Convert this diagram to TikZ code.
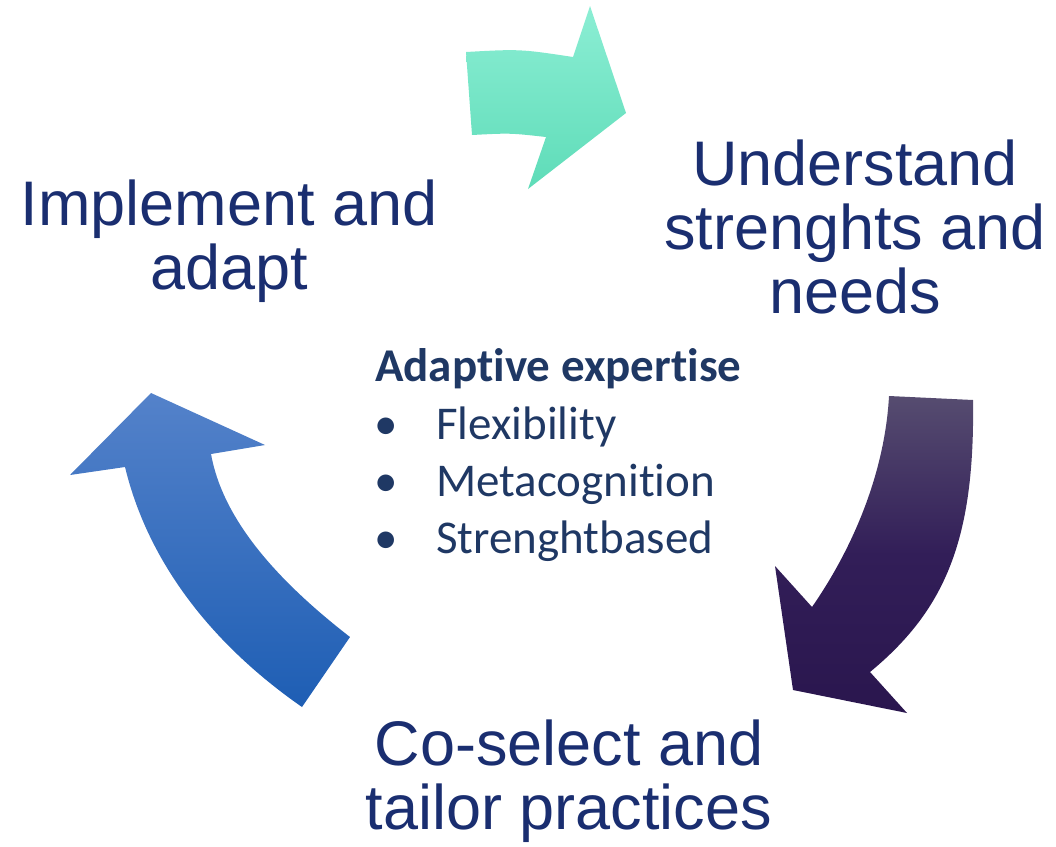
\documentclass[tikz,border=0pt]{standalone}
\usepackage{fontspec}
\setmainfont{Liberation Sans}
\newfontfamily\calibri[Ligatures=NoCommon]{Carlito}
\usepackage{tikz}
\usetikzlibrary{positioning}
\definecolor{cnavy}{RGB}{26,46,112}
\definecolor{ctext}{RGB}{31,56,100}
\definecolor{tealtop}{RGB}{140,238,212}
\definecolor{tealbot}{RGB}{94,220,184}
\definecolor{purptop}{RGB}{86,76,112}
\definecolor{purpmid}{RGB}{50,30,88}
\definecolor{purpbot}{RGB}{42,22,78}
\definecolor{bluetop}{RGB}{84,130,202}
\definecolor{bluebot}{RGB}{30,94,180}
\tikzset{
  steplab/.style={inner sep=0pt,align=center,text=cnavy,
    font=\fontsize{63}{64}\selectfont},
  headlab/.style={inner sep=0pt,anchor=base west,text=ctext,
    font=\calibri\bfseries\fontsize{47}{57}\selectfont},
  itemlab/.style={inner sep=0pt,anchor=base west,text=ctext,
    font=\calibri\fontsize{47}{57}\selectfont},
  tealarr/.style={top color=tealtop,bottom color=tealbot,draw=none},
  purparr/.style={top color=purptop,bottom color=purpbot,middle color=purpmid,draw=none},
  bluearr/.style={top color=bluetop,bottom color=bluebot,draw=none}
}
\begin{document}
\begin{tikzpicture}[x=1pt,y=-1pt]
  \useasboundingbox (0,0) rectangle (1056,846);
  % the three curved arrows of the cycle
  \path[tealarr] (466,52) .. controls (520,49) .. (573,57) -- (590,6) -- (626,113)
    -- (528,189) -- (546,137) .. controls (510,133) .. (472,135) -- cycle;
  \path[purparr] (889,396) -- (973,400) .. controls (975,540) and (945,610) .. (870,672)
    -- (907,713) -- (793,690) -- (775,566) -- (812,607)
    .. controls (855,545) and (885,470) .. cycle;
  \path[bluearr] (302,707) -- (350,637) .. controls (270,575) and (222,515) .. (211,454)
    -- (265,445) -- (151,393) -- (70,475) -- (125,467)
    .. controls (150,570) and (220,650) .. cycle;
  % steps (base = last line)
  \node[steplab,anchor=base] (implement) at (229,289) {Implement and\\adapt};
  \node[steplab,anchor=base] (understand) at (855,313) {Understand\\strenghts and\\needs};
  \node[steplab,anchor=base] (coselect) at (569,829) {Co-select and\\tailor practices};
  % centre
  \node[headlab] (expertise) at (375,381) {Adaptive expertise};
  \node[itemlab] (flex) at (374,439) {\makebox[62pt][l]{•}Flexibility};
  \node[itemlab] (meta) at (374,496) {\makebox[62pt][l]{•}Metacognition};
  \node[itemlab] (strength) at (374,553) {\makebox[62pt][l]{•}Strenghtbased};
\end{tikzpicture}
\end{document}
